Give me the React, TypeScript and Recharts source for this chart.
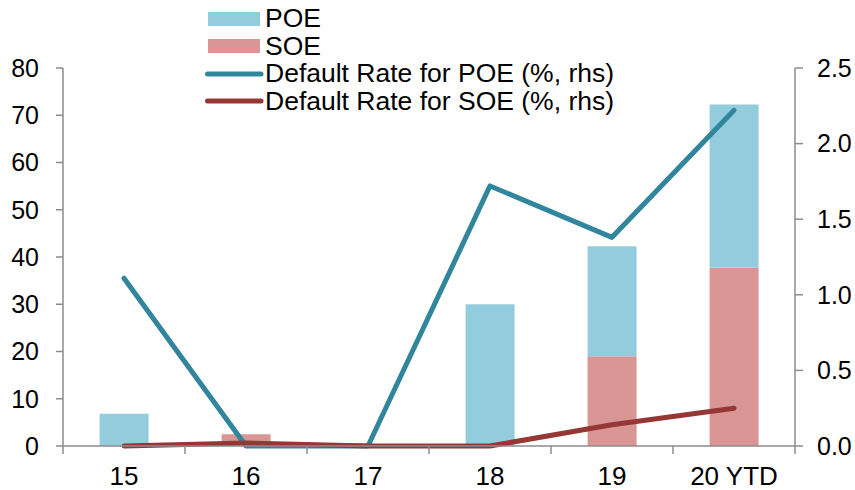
import React from "react";
import { ComposedChart, Bar, Line, XAxis, YAxis, Legend } from "recharts";

const categories = ["15", "16", "17", "18", "19", "20 YTD"];
const poeAmount = [6.8, 0, 0, 30, 23.3, 34.6];
const soeAmount = [0, 2.5, 0, 0, 19, 37.7];
const poeRate = [1.11, 0, 0, 1.72, 1.38, 2.22];
const soeRate = [0, 0.02, 0, 0, 0.14, 0.25];
const leftTicks = [0, 10, 20, 30, 40, 50, 60, 70, 80];
const rightTicks = [0, 0.5, 1, 1.5, 2, 2.5];

const data = categories.map((c, i) => ({
  name: c,
  POE: poeAmount[i],
  SOE: soeAmount[i],
  poeRate: poeRate[i],
  soeRate: soeRate[i],
}));

const FONT = "'Liberation Sans', Arial, sans-serif";
const AXIS = "#8c8c8c";
const C_POE = "#93CDDD";
const C_SOE = "#D99694";
const C_POE_L = "#31859C";
const C_SOE_L = "#953735";

const legendItems = [
  { label: "POE", color: C_POE, kind: "rect" },
  { label: "SOE", color: C_SOE, kind: "rect" },
  { label: "Default Rate for POE (%, rhs)", color: C_POE_L, kind: "line" },
  { label: "Default Rate for SOE (%, rhs)", color: C_SOE_L, kind: "line" },
];

const LegendContent = () => (
  <div style={{ position: "absolute", left: 204, top: 5, fontFamily: FONT, fontSize: 26.5, color: "#000" }}>
    {legendItems.map((it) => (
      <div key={it.label} style={{ display: "flex", alignItems: "center", height: 27.5, lineHeight: "27.5px" }}>
        <svg width={60} height={20} style={{ marginRight: 1 }}>
          {it.kind === "rect" ? (
            <rect x={4} y={3} width={52} height={14} fill={it.color} />
          ) : (
            <line x1={3.5} y1={10} x2={57} y2={10} stroke={it.color} strokeWidth={5} strokeLinecap="round" />
          )}
        </svg>
        <span style={{ whiteSpace: "nowrap" }}>{it.label}</span>
      </div>
    ))}
  </div>
);

const XTick = (props: any) => {
  const { x, y, payload, width, visibleTicksCount, index } = props;
  const half = width / visibleTicksCount / 2;
  const top = 446;
  return (
    <g>
      <line x1={x - half} y1={top} x2={x - half} y2={top + 8} stroke={AXIS} strokeWidth={1.5} />
      {index === visibleTicksCount - 1 && (
        <line x1={x + half} y1={top} x2={x + half} y2={top + 8} stroke={AXIS} strokeWidth={1.5} />
      )}
      <text x={x} y={y} dy="0.71em" textAnchor="middle" fontFamily={FONT} fontSize={26} fill="#000">
        {payload.value}
      </text>
    </g>
  );
};

export default function App() {
  return (
    <div style={{ position: "absolute", left: 0, top: 0 }}>
      <ComposedChart
        width={855}
        height={490}
        data={data}
        margin={{ top: 68, right: 0, bottom: 0, left: 0 }}
        barCategoryGap="30%"
      >
        <Legend content={<LegendContent />} wrapperStyle={{ position: "absolute", left: 0, top: 0, width: 855, height: 0 }} />
        <XAxis
          dataKey="name"
          height={44}
          tickLine={false}
          tickSize={8}
          tickMargin={13}
          tick={<XTick />}
          axisLine={{ stroke: AXIS, strokeWidth: 1.5 }}
          interval={0}
        />
        <YAxis
          yAxisId="left"
          width={63}
          domain={[0, 80]}
          ticks={leftTicks}
          tickSize={7}
          tickMargin={17}
          tick={{ fontFamily: FONT, fontSize: 25, fill: "#000" }}
          tickLine={{ stroke: AXIS, strokeWidth: 1.5 }}
          axisLine={{ stroke: AXIS, strokeWidth: 1.5 }}
          interval={0}
        />
        <YAxis
          yAxisId="right"
          orientation="right"
          width={60}
          domain={[0, 2.5]}
          ticks={rightTicks}
          tickFormatter={(v: number) => v.toFixed(1)}
          tickSize={8}
          tickMargin={14}
          tick={{ fontFamily: FONT, fontSize: 25, fill: "#000", textAnchor: "start" }}
          tickLine={{ stroke: AXIS, strokeWidth: 1.5 }}
          axisLine={{ stroke: AXIS, strokeWidth: 1.5 }}
          interval={0}
        />
        <Bar yAxisId="left" dataKey="SOE" stackId="a" fill={C_SOE} isAnimationActive={false} />
        <Bar yAxisId="left" dataKey="POE" stackId="a" fill={C_POE} isAnimationActive={false} />
        <Line
          yAxisId="right"
          dataKey="poeRate"
          stroke={C_POE_L}
          strokeWidth={5}
          dot={false}
          activeDot={false}
          strokeLinejoin="round"
          strokeLinecap="round"
          isAnimationActive={false}
          type="linear"
        />
        <Line
          yAxisId="right"
          dataKey="soeRate"
          stroke={C_SOE_L}
          strokeWidth={5}
          dot={false}
          activeDot={false}
          strokeLinejoin="round"
          strokeLinecap="round"
          isAnimationActive={false}
          type="linear"
        />
      </ComposedChart>
    </div>
  );
}
